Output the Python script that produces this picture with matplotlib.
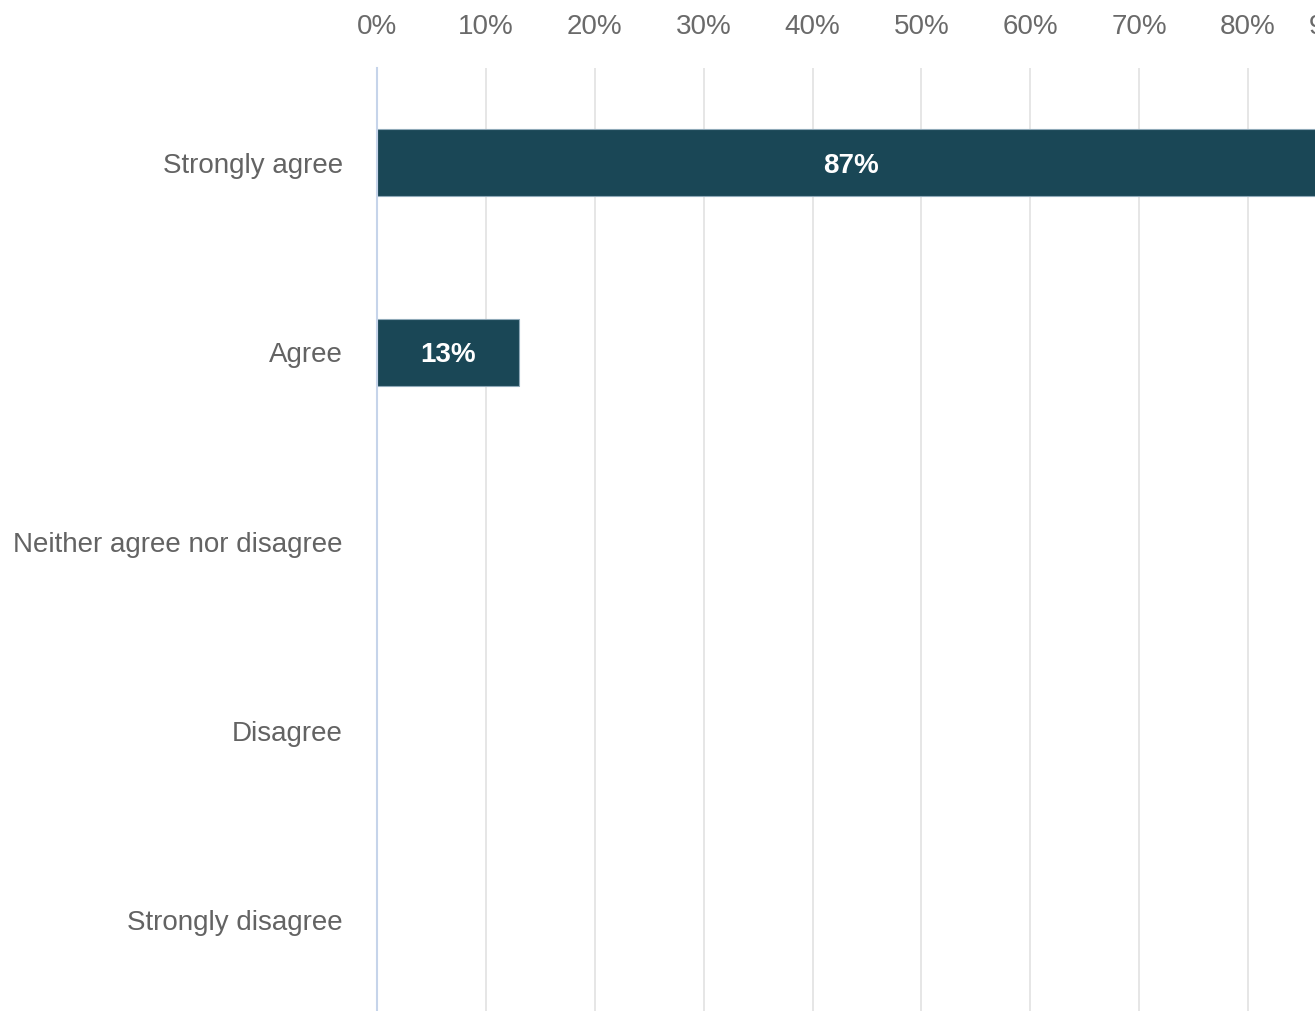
import matplotlib.pyplot as plt
from matplotlib.transforms import ScaledTranslation

# survey responses, share of respondents (%)
categories = ["Strongly agree", "Agree", "Neither agree nor disagree",
              "Disagree", "Strongly disagree"]
shares = [87, 13, 0, 0, 0]
ticks = [0, 10, 20, 30, 40, 50, 60, 70, 80, 90]

plt.rcParams['font.family'] = ['Liberation Sans', 'DejaVu Sans']

fig = plt.figure(figsize=(13.15, 10.11), dpi=100)
# plot area runs past the right edge of the canvas, as in the exported panel
ax = fig.add_axes([377 / 1315, -0.004, 980 / 1315, 0.9367])

y = list(range(len(categories)))
bars = ax.barh(y, shares, height=0.355, color='#1a4756',
               edgecolor='#8fa9b8',
               linewidth=[0.8 if v > 0 else 0 for v in shares], zorder=3)

for bar, v in zip(bars, shares):
    if v > 0:
        ax.text(bar.get_width() / 2, bar.get_y() + bar.get_height() / 2,
                f"{v}%", ha='center', va='center_baseline', color='white',
                fontsize=20, fontweight='bold', zorder=4)

ax.set_xlim(0, 90)
ax.set_ylim(len(categories) - 0.5, -0.5)
ax.set_yticks(y)
ax.set_yticklabels(categories)
ax.set_xticks(ticks)
ax.set_xticklabels([f"{t}%" for t in ticks])

ax.xaxis.tick_top()
ax.tick_params(axis='x', length=0, pad=20, labelsize=20, labelcolor='#6a6a6a')
ax.tick_params(axis='y', length=0, pad=24.5, labelsize=20, labelcolor='#636363')

# last label is pulled inward so it stays near the plot edge
last = ax.get_xticklabels()[-1]
last.set_transform(last.get_transform() +
                   ScaledTranslation(-20 / 100, 0, fig.dpi_scale_trans))

ax.grid(axis='x', color='#e2e2e2', linewidth=1.2, zorder=0)
for s in ['top', 'right', 'bottom']:
    ax.spines[s].set_visible(False)
ax.spines['left'].set_color('#c6d4ea')
ax.spines['left'].set_linewidth(1.5)
ax.spines['left'].set_zorder(5)

fig.savefig('out.png', dpi=100)
